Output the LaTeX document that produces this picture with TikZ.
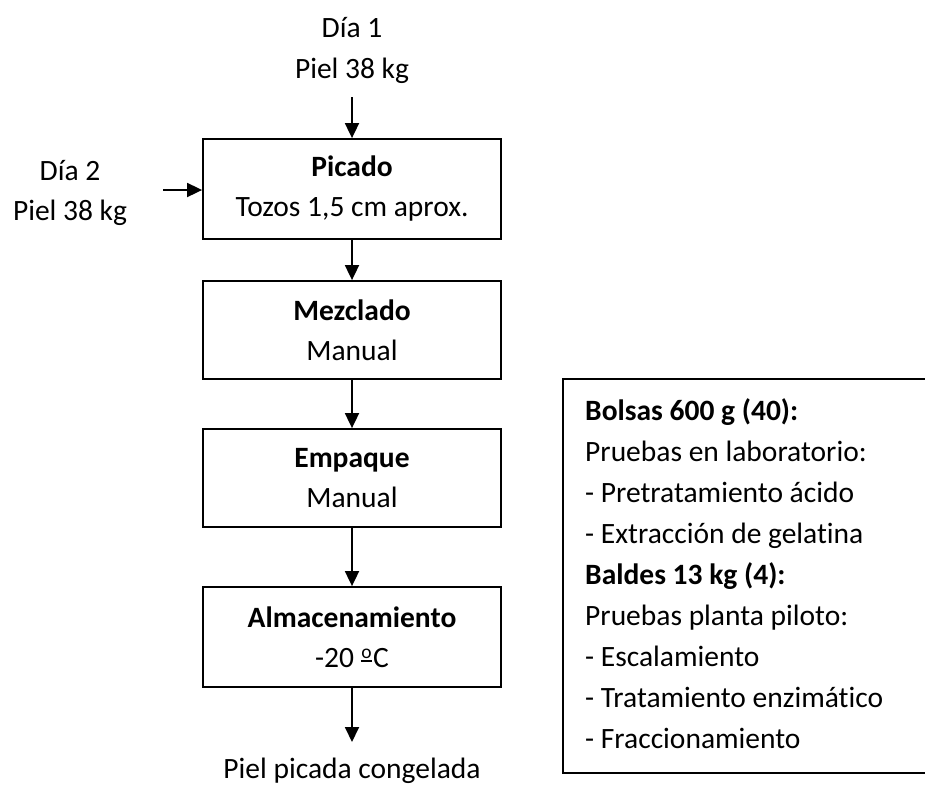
\documentclass[tikz,border=0pt]{standalone}
\usepackage{fontspec}
\setmainfont{Carlito}[Ligatures=NoCommon]
\usetikzlibrary{arrows.meta}
\newcommand{\ordmasc}{\raisebox{5.5pt}{\vbox{\hbox{\kern0.5pt\fontsize{19.5}{19.5}\selectfont o\kern0.5pt}\kern1.5pt\hrule height 1.4pt}}\kern1pt}
\tikzset{
  txt/.style={inner sep=0pt, font=\fontsize{29.5}{40}\selectfont},
  procbox/.style={draw, line width=1.8pt, minimum width=298pt, minimum height=99pt, inner sep=0pt, align=center, font=\fontsize{29.5}{40}\selectfont},
  arr/.style={line width=1.8pt, -{Triangle[length=15pt,width=14pt]}},
  frame/.style={line width=1.8pt},
}
\begin{document}
\begin{tikzpicture}[x=1pt,y=-1pt]
\useasboundingbox (0,0) rectangle (925,785);
% inputs
\node[txt, align=center, anchor=base] (d1a) at (352,37) {Día 1};
\node[txt, align=center, anchor=base] (d1b) at (352,78) {Piel 38 kg};
\node[txt, align=center, anchor=base] (d2a) at (70,180) {Día 2};
\node[txt, align=center, anchor=base] (d2b) at (70,220) {Piel 38 kg};
% process boxes
\node[procbox, minimum height=100pt] (pic) at (352,189) {\textbf{Picado}\\Tozos 1,5 cm aprox.};
\node[procbox, minimum height=98pt] (mez) at (352,330) {\textbf{Mezclado}\\Manual};
\node[procbox, minimum height=98pt] (emp) at (352,478) {\textbf{Empaque}\\Manual};
\node[procbox, minimum height=100pt] (alm) at (352,637) {\textbf{Almacenamiento}\\-20 \ordmasc C};
\node[txt, anchor=base] (out) at (352,778) {Piel picada congelada};
% connector ends
\coordinate (d1end) at (352,97);
\coordinate (d2end) at (163,190);
\coordinate (outtip) at (352,742);
\draw[arr] (d1end) -- (pic.north);
\draw[arr] (d2end) -- (d2end -| pic.west);
\draw[arr] (pic.south) -- (mez.north);
\draw[arr] (mez.south) -- (emp.north);
\draw[arr] (emp.south) -- (alm.north);
\draw[arr] (alm.south) -- (outtip);
% right box (open to the right)
\draw[frame] (925,379) -- (563,379) -- (563,773) -- (925,773);
\node[txt, anchor=base west] (r1) at (585,420) {\textbf{Bolsas 600 g (40):}};
\node[txt, anchor=base west] (r2) at (585,461) {Pruebas en laboratorio:};
\node[txt, anchor=base west] (r3) at (585,502) {- Pretratamiento ácido};
\node[txt, anchor=base west] (r4) at (585,543) {- Extracción de gelatina};
\node[txt, anchor=base west] (r5) at (585,584) {\textbf{Baldes 13 kg (4):}};
\node[txt, anchor=base west] (r6) at (585,625) {Pruebas planta piloto:};
\node[txt, anchor=base west] (r7) at (585,666) {- Escalamiento};
\node[txt, anchor=base west] (r8) at (585,707) {- Tratamiento enzimático};
\node[txt, anchor=base west] (r9) at (585,748) {- Fraccionamiento};
\end{tikzpicture}
\end{document}
